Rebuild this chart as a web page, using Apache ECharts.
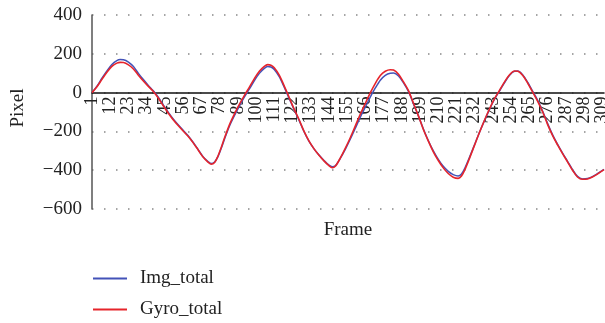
<!DOCTYPE html>
<html>
<head>
<meta charset="utf-8">
<script src="https://cdn.jsdelivr.net/npm/echarts@6/dist/echarts.min.js"></script>
<style>
  html, body { margin: 0; padding: 0; background: #fff; }
  #chart { width: 605px; height: 323px; }
</style>
</head>
<body>
<div id="chart"></div>
<script>
// Frame numbers shown on the x axis (1 .. 310)
const frameCount = 310;
const frames = [];
for (let i = 1; i <= frameCount; i++) frames.push(String(i));

// Sampled frames and the total motion (pixels) at those frames
const sampleFrames = [1, 4, 7, 10, 13, 16, 18, 20, 23, 26, 29, 32, 35, 38, 41, 44, 47, 50, 53, 56,
  59, 62, 65, 68, 71, 73, 75, 77, 79, 81, 84, 87, 90, 93, 96, 99, 102, 105, 107, 109,
  111, 114, 117, 120, 123, 126, 129, 132, 135, 138, 141, 144, 146, 148, 151, 154, 157, 160, 163, 166,
  169, 172, 175, 178, 181, 183, 186, 189, 192, 195, 198, 201, 204, 207, 210, 213, 216, 219, 222, 224,
  226, 229, 232, 235, 238, 241, 244, 247, 250, 253, 256, 258, 261, 264, 267, 270, 273, 276, 279, 282,
  285, 288, 291, 294, 297, 300, 303, 306, 310];

const gyroTotal = [0, 30, 68, 105, 135, 152, 156, 155, 143, 122, 90, 60, 32, 6, -28, -68, -105, -140, -170, -198,
  -225, -258, -295, -332, -358, -369, -360, -328, -283, -233, -165, -110, -60, -14, 28, 72, 110, 135, 144, 141,
  128, 90, 35, -25, -85, -140, -200, -250, -290, -323, -352, -377, -387, -378, -335, -285, -230, -170, -110, -55,
  0, 48, 88, 110, 118, 116, 95, 55, 10, -55, -120, -190, -250, -305, -350, -388, -417, -436, -442, -430,
  -398, -335, -268, -202, -140, -82, -30, 12, 55, 92, 111, 110, 88, 48, 2, -45, -100, -165, -222, -270,
  -315, -357, -400, -435, -447, -445, -435, -420, -397];

const imgTotal = [0, 33, 74, 112, 145, 165, 170, 169, 157, 134, 99, 67, 37, 9, -24, -64, -101, -136, -166, -194,
  -222, -256, -293, -330, -355, -366, -358, -330, -287, -239, -172, -118, -68, -22, 19, 62, 99, 125, 134, 132,
  119, 82, 28, -30, -88, -143, -202, -252, -290, -322, -350, -374, -382, -376, -337, -290, -238, -182, -125, -74,
  -22, 24, 64, 89, 100, 101, 86, 50, 6, -58, -120, -188, -248, -300, -344, -380, -406, -423, -430, -420,
  -390, -330, -266, -202, -142, -85, -33, 9, 52, 90, 110, 111, 91, 52, 6, -40, -96, -160, -218, -267,
  -312, -354, -397, -432, -445, -443, -433, -418, -396];

// Y axis range and step
const yMin = -600, yMax = 400, yStep = 200;
// A frame label every 11 frames: 1, 12, 23, ...
const labelEvery = 11;

const pairs = (vals) => sampleFrames.map((f, i) => [String(f), vals[i]]);

const serif = '"Liberation Serif", "DejaVu Serif", serif';

// Plot area; the frame axis sits on the zero line of the pixel axis
const gridTop = 15, gridHeight = 194;
const zeroOffset = -gridHeight * (0 - yMin) / (yMax - yMin);

const chart = echarts.init(document.getElementById('chart'), null, { renderer: 'canvas' });
chart.setOption({
  animation: false,
  backgroundColor: '#fff',
  textStyle: { fontFamily: serif, color: '#222' },
  grid: { left: 92, right: 1, top: gridTop, height: gridHeight, containLabel: false, outerBoundsMode: 'none' },
  legend: {
    orient: 'vertical',
    left: 93,
    top: 269,
    padding: 0,
    itemWidth: 34,
    itemHeight: 2,
    itemGap: 12,
    icon: 'rect',
    textStyle: { fontFamily: serif, fontSize: 19, color: '#222', padding: [0, 0, 0, 8] },
    data: ['Img_total', 'Gyro_total']
  },
  xAxis: {
    type: 'category',
    data: frames,
    boundaryGap: false,
    offset: zeroOffset,
    name: 'Frame',
    nameLocation: 'middle',
    nameGap: 128,
    nameTextStyle: { fontFamily: serif, fontSize: 19, color: '#222' },
    axisLine: { onZero: false, lineStyle: { color: '#111', width: 1.5 } },
    axisTick: { show: false },
    axisLabel: {
      interval: (index) => index % labelEvery === 0,
      rotate: 90,
      margin: 4,
      fontFamily: serif,
      fontSize: 18,
      color: '#222',
      hideOverlap: false
    },
    splitLine: { show: false }
  },
  yAxis: {
    type: 'value',
    min: yMin,
    max: yMax,
    interval: yStep,
    name: 'Pixel',
    nameLocation: 'middle',
    nameGap: 64,
    nameTextStyle: { fontFamily: serif, fontSize: 19, color: '#222', padding: [0, 0, 0, 8] },
    axisLine: { show: true, onZero: false, lineStyle: { color: '#555', width: 1.5 } },
    axisTick: { show: false },
    axisLabel: {
      margin: 10,
      fontFamily: serif,
      fontSize: 19,
      color: '#222',
      formatter: (v) => (v < 0 ? '\u2212' + Math.abs(v) : String(v))
    },
    splitLine: {
      show: true,
      lineStyle: { color: '#888', width: 1.5, type: [1.5, 10.5] }
    }
  },
  series: [
    {
      name: 'Img_total',
      type: 'line',
      data: pairs(imgTotal),
      smooth: 0.3,
      symbol: 'none',
      color: '#4352b8',
      lineStyle: { color: '#4352b8', width: 1.5 },
      z: 2
    },
    {
      name: 'Gyro_total',
      type: 'line',
      data: pairs(gyroTotal),
      smooth: 0.3,
      symbol: 'none',
      color: '#e6242b',
      lineStyle: { color: '#e6242b', width: 1.6 },
      z: 3
    }
  ]
});
</script>
</body>
</html>
